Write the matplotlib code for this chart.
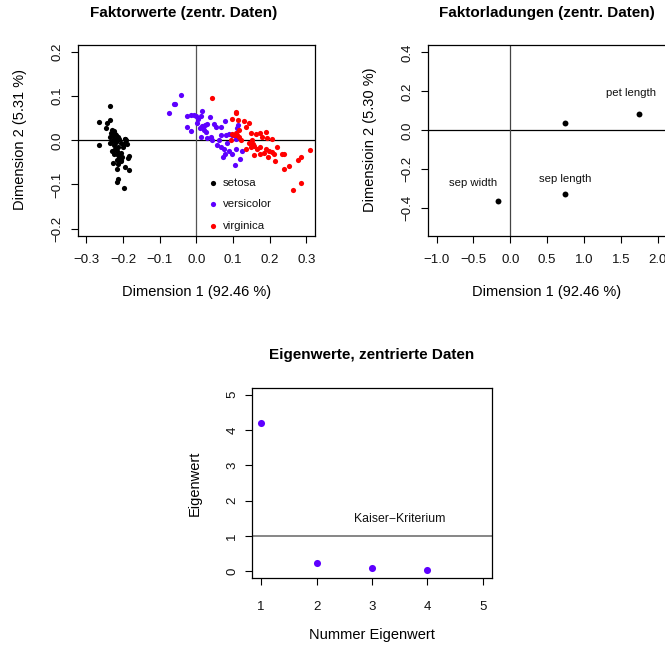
import matplotlib
matplotlib.use("Agg")
import matplotlib.pyplot as plt
import numpy as np

plt.rcParams["font.family"] = ["Liberation Sans", "DejaVu Sans"]
plt.rcParams["axes.unicode_minus"] = True

# --- PCA scores (centred iris data), first two dimensions ---
setosa_x = [-0.2345, -0.265, -0.244, -0.237, -0.246, -0.265, -0.231, -0.225, -0.233, -0.222,
            -0.228, -0.219, -0.215, -0.235, -0.224, -0.210, -0.196, -0.192, -0.231, -0.219,
            -0.205, -0.198, -0.235, -0.225, -0.213, -0.201, -0.222, -0.231, -0.216, -0.207,
            -0.224, -0.215, -0.210, -0.204, -0.216, -0.207, -0.213, -0.187, -0.194, -0.185,
            -0.217, -0.215, -0.216, -0.198, -0.184, -0.190, -0.195, -0.220, -0.205, -0.228]
setosa_y = [0.077, 0.042, 0.040, 0.047, 0.029, -0.011, 0.024, 0.021, 0.017, 0.015,
            0.011, 0.011, 0.008, 0.008, 0.004, 0.004, 0.004, 0.000, -0.002, -0.004,
            -0.006, -0.009, -0.006, -0.011, -0.014, -0.015, -0.019, -0.023, -0.024, -0.029,
            -0.030, -0.034, -0.039, -0.038, -0.044, -0.047, -0.053, -0.039, -0.061, -0.068,
            -0.066, -0.087, -0.095, -0.108, -0.036, -0.008, 0.002, 0.000, -0.045, -0.052]

versicolor_x = [-0.043, -0.061, -0.058, -0.075, -0.025, -0.015, -0.006, -0.002, 0.015, 0.012,
                0.005, 0.037, -0.025, -0.015, 0.010, 0.016, 0.021, 0.025, 0.018, 0.024,
                0.030, 0.048, 0.053, 0.066, 0.078, 0.041, 0.030, 0.012, 0.066, 0.080,
                0.089, 0.098, 0.112, 0.115, 0.107, 0.057, 0.066, 0.075, 0.089, 0.078,
                0.074, 0.098, 0.107, 0.118, 0.105, 0.125, 0.044, 0.062, 0.003, 0.085]
versicolor_y = [0.102, 0.082, 0.082, 0.062, 0.055, 0.057, 0.058, 0.055, 0.067, 0.055,
                0.048, 0.054, 0.030, 0.021, 0.027, 0.032, 0.024, 0.019, 0.029, 0.034,
                0.038, 0.038, 0.030, 0.030, 0.043, 0.008, 0.006, 0.008, 0.013, 0.011,
                0.015, 0.011, 0.027, 0.034, 0.004, -0.011, -0.015, -0.019, -0.023, -0.030,
                -0.038, -0.032, -0.020, -0.042, -0.055, -0.023, 0.000, 0.000, 0.040, -0.005]

virginica_x = [0.042, 0.107, 0.109, 0.098, 0.114, 0.130, 0.145, 0.116, 0.135, 0.107,
               0.098, 0.103, 0.112, 0.116, 0.148, 0.162, 0.175, 0.189, 0.180, 0.194,
               0.207, 0.144, 0.155, 0.148, 0.135, 0.157, 0.175, 0.173, 0.185, 0.189,
               0.198, 0.196, 0.207, 0.212, 0.215, 0.233, 0.239, 0.239, 0.253, 0.278,
               0.287, 0.309, 0.285, 0.264, 0.157, 0.166, 0.094, 0.121, 0.153, 0.221]
virginica_y = [0.097, 0.062, 0.064, 0.049, 0.045, 0.044, 0.040, 0.023, 0.030, 0.017,
               0.014, 0.011, 0.011, 0.008, 0.017, 0.015, 0.017, 0.019, 0.008, 0.005,
               0.002, -0.006, -0.009, -0.015, -0.020, -0.033, -0.015, -0.030, -0.028, -0.019,
               -0.023, -0.038, -0.027, -0.032, -0.046, -0.032, -0.030, -0.064, -0.057, -0.045,
               -0.038, -0.021, -0.096, -0.112, -0.013, -0.019, 0.000, 0.000, 0.000, -0.015]

species = ["setosa", "versicolor", "virginica"]
species_colors = ["black", "#5E00FF", "#FF0000"]

# --- loadings ---
var_names = ["sep length", "sep width", "pet length", "pet width"]
load_x = [0.741, -0.172, 1.752, 0.741]
load_y = [-0.326, -0.362, 0.084, 0.036]
load_labels = ["sep length", "sep width", "pet length", ""]
label_x = [0.745, -0.506, 1.64, None]
label_y = [-0.249, -0.271, 0.193, None]

# --- eigenvalues ---
eig_index = [1, 2, 3, 4]
eigenvalues = [4.20, 0.24, 0.078, 0.024]
kaiser = 1.0

W, H = 665, 645
fig = plt.figure(figsize=(W / 100, H / 100), dpi=100)


def px_axes(left, top, right, bottom):
    return fig.add_axes([left / W, 1 - bottom / H, (right - left) / W, (bottom - top) / H])


def style(ax, xpad=8.5):
    for s in ax.spines.values():
        s.set_linewidth(0.9)
        s.set_color("black")
    ax.tick_params(direction="out", length=5, width=0.8, labelsize=9.5, pad=5,
                   color="black", labelcolor="#111111")
    ax.tick_params(axis="x", pad=xpad)
    plt.setp(ax.get_yticklabels(), rotation=90, va="center")


TITLE_KW = dict(fontsize=11, fontweight="bold", ha="center", va="center")
LABEL_SIZE = 10.5
PT = 14

# Panel 1: scores
ax1 = px_axes(77.7, 45, 315, 235.7)
ax1.axhline(0, color="black", lw=0.9)
ax1.axvline(0, color="#555555", lw=0.9)
for xs, ys, c in zip([setosa_x, versicolor_x, virginica_x],
                     [setosa_y, versicolor_y, virginica_y], species_colors):
    ax1.scatter(xs, ys, s=PT, color=c, linewidths=0, zorder=3)
ax1.set_xlim(-0.324, 0.324)
ax1.set_ylim(-0.216, 0.216)
ax1.set_xticks([-0.3, -0.2, -0.1, 0.0, 0.1, 0.2, 0.3])
ax1.set_yticks([-0.2, -0.1, 0.0, 0.1, 0.2])
ax1.set_xticklabels(["\u22120.3", "\u22120.2", "\u22120.1", "0.0", "0.1", "0.2", "0.3"])
ax1.set_yticklabels(["\u22120.2", "\u22120.1", "0.0", "0.1", "0.2"])
style(ax1)
for i, (name, c) in enumerate(zip(species, species_colors)):
    yy = [-0.097, -0.145, -0.194][i]
    ax1.scatter([0.046], [yy], s=PT, color=c, linewidths=0)
    ax1.text(0.072, yy, name, fontsize=8.2, va="center", ha="left", color="#111111")
fig.text(184 / W, 1 - 13 / H, "Faktorwerte (zentr. Daten)", **TITLE_KW)
fig.text(197 / W, 1 - 292 / H, "Dimension 1 (92.46 %)", fontsize=LABEL_SIZE,
         ha="center", va="center")
fig.text(20 / W, 1 - 140 / H, "Dimension 2 (5.31 %)", fontsize=LABEL_SIZE,
         ha="center", va="center", rotation=90)

# Panel 2: loadings
ax2 = px_axes(427.7, 45, 666.5, 235.7)
ax2.axhline(0, color="black", lw=0.9)
ax2.axvline(0, color="#444444", lw=0.9)
ax2.scatter(load_x, load_y, s=18, color="black", linewidths=0, zorder=3)
for lab, lx, ly in zip(load_labels, label_x, label_y):
    if lab:
        ax2.text(lx, ly, lab, fontsize=8.2, ha="center", va="center", color="#111111")
ax2.set_xlim(-1.12, 2.12)
ax2.set_ylim(-0.54, 0.438)
ax2.set_xticks([-1.0, -0.5, 0.0, 0.5, 1.0, 1.5, 2.0])
ax2.set_xticklabels(["\u22121.0", "\u22120.5", "0.0", "0.5", "1.0", "1.5", "2.0"])
ax2.set_yticks([-0.4, -0.2, 0.0, 0.2, 0.4])
ax2.set_yticklabels(["\u22120.4", "\u22120.2", "0.0", "0.2", "0.4"])
style(ax2)
fig.text(547 / W, 1 - 13 / H, "Faktorladungen (zentr. Daten)", **TITLE_KW)
fig.text(547 / W, 1 - 292 / H, "Dimension 1 (92.46 %)", fontsize=LABEL_SIZE,
         ha="center", va="center")
fig.text(370 / W, 1 - 140 / H, "Dimensioin 2 (5.30 %)", fontsize=LABEL_SIZE,
         ha="center", va="center", rotation=90)

# Panel 3: scree plot
ax3 = px_axes(252.3, 387.7, 491.7, 578.3)
ax3.axhline(kaiser, color="#666666", lw=1.1)
ax3.scatter(eig_index, eigenvalues, s=26, color="#5E00FF", linewidths=0, zorder=3)
ax3.text(3.5, 1.47, "Kaiser\u2212Kriterium", fontsize=8.8, ha="center", va="center",
         color="#111111")
ax3.set_xlim(0.84, 5.16)
ax3.set_ylim(-0.2, 5.2)
ax3.set_xticks([1, 2, 3, 4, 5])
ax3.set_yticks([0, 1, 2, 3, 4, 5])
style(ax3, xpad=11)
fig.text(372 / W, 1 - 355 / H, "Eigenwerte, zentrierte Daten", **TITLE_KW)
fig.text(372 / W, 1 - 635 / H, "Nummer Eigenwert", fontsize=LABEL_SIZE,
         ha="center", va="center")
fig.text(195 / W, 1 - 483 / H, "Eigenwert", fontsize=LABEL_SIZE,
         ha="center", va="center", rotation=90)

fig.savefig("out.png", dpi=100)
